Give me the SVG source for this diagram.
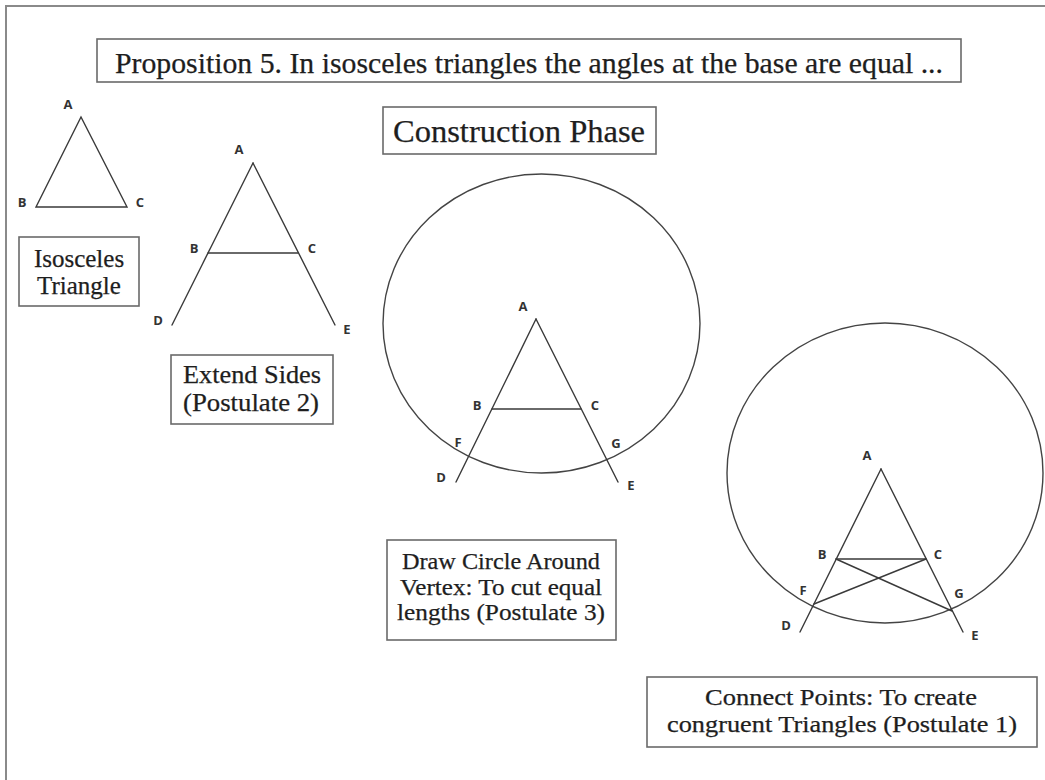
<svg xmlns="http://www.w3.org/2000/svg" width="1045" height="780" viewBox="0 0 1045 780">
<style>
.frame{fill:none;stroke:#8a8a8a;stroke-width:2}
.box{fill:#fff;stroke:#6a6a6a;stroke-width:1.6}
.ln{fill:none;stroke:#3a3a3a;stroke-width:1.4;stroke-linecap:round}
.circ{fill:none;stroke:#444;stroke-width:1.4}
.t{font-family:"Liberation Serif","Times New Roman",serif;fill:#1e1e1e;stroke:#1e1e1e;stroke-width:0.25;text-anchor:middle}
.lb{font-family:"Open Sans","Liberation Sans",sans-serif;font-size:13px;font-weight:700;fill:#333;text-anchor:middle;dominant-baseline:central}
</style>
<rect x="0" y="0" width="1045" height="780" fill="#fff"/>
<rect class="frame" x="6" y="6" width="1060" height="800"/>

<g id="title">
<rect class="box" x="97" y="39" width="864" height="43"/>
<text class="t" x="529" y="73" font-size="29" textLength="828" lengthAdjust="spacingAndGlyphs">Proposition 5. In isosceles triangles the angles at the base are equal ...</text>
</g>

<g id="construction-phase">
<rect class="box" x="383" y="107" width="273" height="47"/>
<text class="t" x="519" y="142" font-size="32" textLength="252" lengthAdjust="spacingAndGlyphs">Construction Phase</text>
</g>

<g id="triangle1">
<polygon class="ln" points="81,117 36,207 127,207"/>
<text class="lb" x="68" y="104">A</text>
<text class="lb" x="22" y="202">B</text>
<text class="lb" x="140" y="202">C</text>
</g>

<g id="label-isosceles">
<rect class="box" x="19" y="237" width="120" height="69"/>
<text class="t" x="79" y="267" font-size="25">Isosceles</text>
<text class="t" x="79" y="294" font-size="25">Triangle</text>
</g>

<g id="triangle2">
<line class="ln" x1="253" y1="163" x2="172" y2="325"/>
<line class="ln" x1="253" y1="163" x2="335" y2="325"/>
<line class="ln" x1="208" y1="253" x2="298" y2="253"/>
<text class="lb" x="239" y="149">A</text>
<text class="lb" x="194" y="248">B</text>
<text class="lb" x="312" y="248">C</text>
<text class="lb" x="158" y="320">D</text>
<text class="lb" x="347" y="329">E</text>
</g>

<g id="label-extend">
<rect class="box" x="171" y="355" width="162" height="69"/>
<text class="t" x="252" y="383" font-size="25" textLength="138" lengthAdjust="spacingAndGlyphs">Extend Sides</text>
<text class="t" x="251" y="411" font-size="25" textLength="136" lengthAdjust="spacingAndGlyphs">(Postulate 2)</text>
</g>

<g id="figure3">
<ellipse class="circ" cx="541.5" cy="323.5" rx="158.5" ry="149.5"/>
<line class="ln" x1="536" y1="319" x2="456" y2="482"/>
<line class="ln" x1="536" y1="319" x2="618" y2="482"/>
<line class="ln" x1="492" y1="409" x2="581" y2="409"/>
<text class="lb" x="523" y="306">A</text>
<text class="lb" x="477" y="405">B</text>
<text class="lb" x="595" y="405">C</text>
<text class="lb" x="458" y="442">F</text>
<text class="lb" x="616" y="443">G</text>
<text class="lb" x="441" y="477">D</text>
<text class="lb" x="631" y="485">E</text>
</g>

<g id="label-circle">
<rect class="box" x="387" y="540" width="229" height="100"/>
<text class="t" x="501" y="569" font-size="24" textLength="198" lengthAdjust="spacingAndGlyphs">Draw Circle Around</text>
<text class="t" x="501" y="595" font-size="24" textLength="202" lengthAdjust="spacingAndGlyphs">Vertex: To cut equal</text>
<text class="t" x="501" y="620" font-size="24" textLength="208" lengthAdjust="spacingAndGlyphs">lengths (Postulate 3)</text>
</g>

<g id="figure4">
<ellipse class="circ" cx="885" cy="473" rx="158" ry="150"/>
<line class="ln" x1="881" y1="469" x2="800" y2="632"/>
<line class="ln" x1="881" y1="469" x2="963" y2="632"/>
<line class="ln" x1="836" y1="559" x2="926" y2="559"/>
<line class="ln" x1="836" y1="559" x2="952" y2="611"/>
<line class="ln" x1="926" y1="559" x2="814" y2="604"/>
<text class="lb" x="867" y="455">A</text>
<text class="lb" x="822" y="554">B</text>
<text class="lb" x="938" y="554">C</text>
<text class="lb" x="803" y="590">F</text>
<text class="lb" x="959" y="593">G</text>
<text class="lb" x="786" y="625">D</text>
<text class="lb" x="975" y="635">E</text>
</g>

<g id="label-connect">
<rect class="box" x="647" y="677" width="390" height="70"/>
<text class="t" x="841" y="705" font-size="23" textLength="272" lengthAdjust="spacingAndGlyphs">Connect Points: To create</text>
<text class="t" x="842" y="732" font-size="23" textLength="350" lengthAdjust="spacingAndGlyphs">congruent Triangles (Postulate 1)</text>
</g>

<g id="connectors"></g>
</svg>
